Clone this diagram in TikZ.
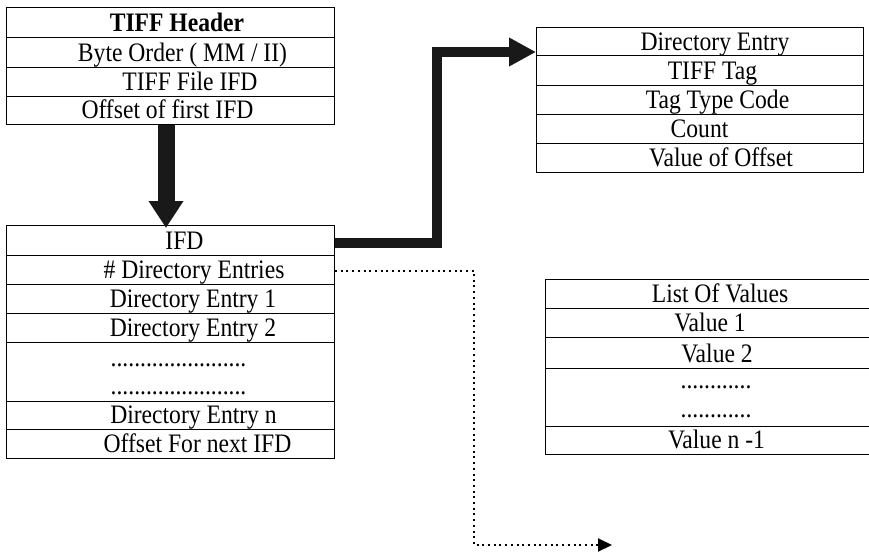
\documentclass[tikz,border=0pt]{standalone}
\usepackage{fontspec}
\setmainfont{Liberation Serif}
\usetikzlibrary{arrows.meta}

% table texts are set a little taller than wide
\newcommand{\tallText}[1]{\scalebox{1}[1.13]{#1}}

\begin{document}
\begin{tikzpicture}[x=1pt,y=-1pt,
  cell/.style={draw, line width=1pt, inner sep=0pt, anchor=north west},
  opencell/.style={inner sep=0pt, anchor=north west},
  txt/.style={inner sep=0pt, anchor=base, font=\fontsize{23.6}{28}\selectfont},
  bigarrow/.style={draw=black!90, line join=miter, line cap=butt},
  dotline/.style={line width=2pt, dash pattern=on 2pt off 3.7pt, line cap=butt}
]
\useasboundingbox (0,0) rectangle (869,552);

% TIFF header block
\node[cell, minimum width=328pt, minimum height=30pt] (h1) at (6,7) {};
\node[cell, minimum width=328pt, minimum height=30pt] (h2) at (6,37) {};
\node[cell, minimum width=328pt, minimum height=29pt] (h3) at (6,67) {};
\node[cell, minimum width=328pt, minimum height=28pt] (h4) at (6,96) {};
\node[txt] (th1) at (177,31.5) {\tallText{\textbf{TIFF Header}}};
\node[txt] (th2) at (182.5,61) {\tallText{Byte Order ( MM / II)}};
\node[txt] (th3) at (190,90) {\tallText{TIFF File IFD}};
\node[txt] (th4) at (167.5,118.5) {\tallText{Offset of first IFD}};

% image file directory
\node[cell, minimum width=328pt, minimum height=30pt] (i1) at (6,225) {};
\node[cell, minimum width=328pt, minimum height=29pt] (i2) at (6,255) {};
\node[cell, minimum width=328pt, minimum height=29pt] (i3) at (6,284) {};
\node[cell, minimum width=328pt, minimum height=29pt] (i4) at (6,313) {};
\node[cell, minimum width=328pt, minimum height=59pt] (i5) at (6,342) {};
\node[cell, minimum width=328pt, minimum height=28pt] (i6) at (6,401) {};
\node[cell, minimum width=328pt, minimum height=29pt] (i7) at (6,429) {};
\node[txt] (ti1) at (184.5,249.5) {\tallText{IFD}};
\node[txt] (ti2) at (194,278.5) {\tallText{\# Directory Entries}};
\node[txt] (ti3) at (193,307.5) {\tallText{Directory Entry 1}};
\node[txt] (ti4) at (193,336.5) {\tallText{Directory Entry 2}};
\node[txt] (ti5a) at (178.5,366) {\tallText{.......................}};
\node[txt] (ti5b) at (178.5,394) {\tallText{.......................}};
\node[txt] (ti6) at (193.5,423.5) {\tallText{Directory Entry n}};
\node[txt] (ti7) at (197.5,452.5) {\tallText{Offset For next IFD}};

% directory entry layout
\node[cell, minimum width=327pt, minimum height=28pt] (d1) at (536,27) {};
\node[cell, minimum width=327pt, minimum height=30pt] (d2) at (536,55) {};
\node[cell, minimum width=327pt, minimum height=29pt] (d3) at (536,85) {};
\node[cell, minimum width=327pt, minimum height=29pt] (d4) at (536,114) {};
\node[cell, minimum width=327pt, minimum height=29pt] (d5) at (536,143) {};
\node[txt] (td1) at (715,50) {\tallText{Directory Entry}};
\node[txt] (td2) at (712.5,79.5) {\tallText{TIFF Tag}};
\node[txt] (td3) at (717.5,108.5) {\tallText{Tag Type Code}};
\node[txt] (td4) at (699.5,137.5) {\tallText{Count}};
\node[txt] (td5) at (721,166.5) {\tallText{Value of Offset}};

% list of values (open on the right)
\node[opencell, minimum width=324pt, minimum height=29pt] (l1) at (545,279) {};
\node[opencell, minimum width=324pt, minimum height=29pt] (l2) at (545,308) {};
\node[opencell, minimum width=324pt, minimum height=31pt] (l3) at (545,337) {};
\node[opencell, minimum width=324pt, minimum height=58pt] (l4) at (545,368) {};
\node[opencell, minimum width=324pt, minimum height=28pt] (l5) at (545,426) {};
\foreach \n in {l1,l2,l3,l4,l5}
  \draw[line width=1pt] (\n.north east) -- (\n.north west) -- (\n.south west) -- (\n.south east);
\node[txt] (tl1) at (720,302.5) {\tallText{List Of Values}};
\node[txt] (tl2) at (710,331.5) {\tallText{Value 1}};
\node[txt] (tl3) at (717,362) {\tallText{Value 2}};
\node[txt] (tl4a) at (716,388) {\tallText{............}};
\node[txt] (tl4b) at (716,417) {\tallText{............}};
\node[txt] (tl5) at (716.5,448.5) {\tallText{Value n -1}};

% connectors
\draw[bigarrow, line width=17pt, -{Triangle[length=27pt,width=33pt]}]
  ([xshift=-4.5pt]h4.south) -- ([xshift=-4.5pt,yshift=-3pt]i1.north);
\draw[bigarrow, line width=10pt, -{Triangle[length=27pt,width=27pt]}]
  ([yshift=-2.5pt]i1.east) -- ++(101.5,0) |- ([yshift=4pt]d1.south west);
\coordinate (vend) at (612,545);
\draw[dotline, -{Triangle[length=14pt,width=13pt]}]
  ([yshift=-0.5pt]i2.east) -- ++(139,0) |- (vend);
\end{tikzpicture}
\end{document}
